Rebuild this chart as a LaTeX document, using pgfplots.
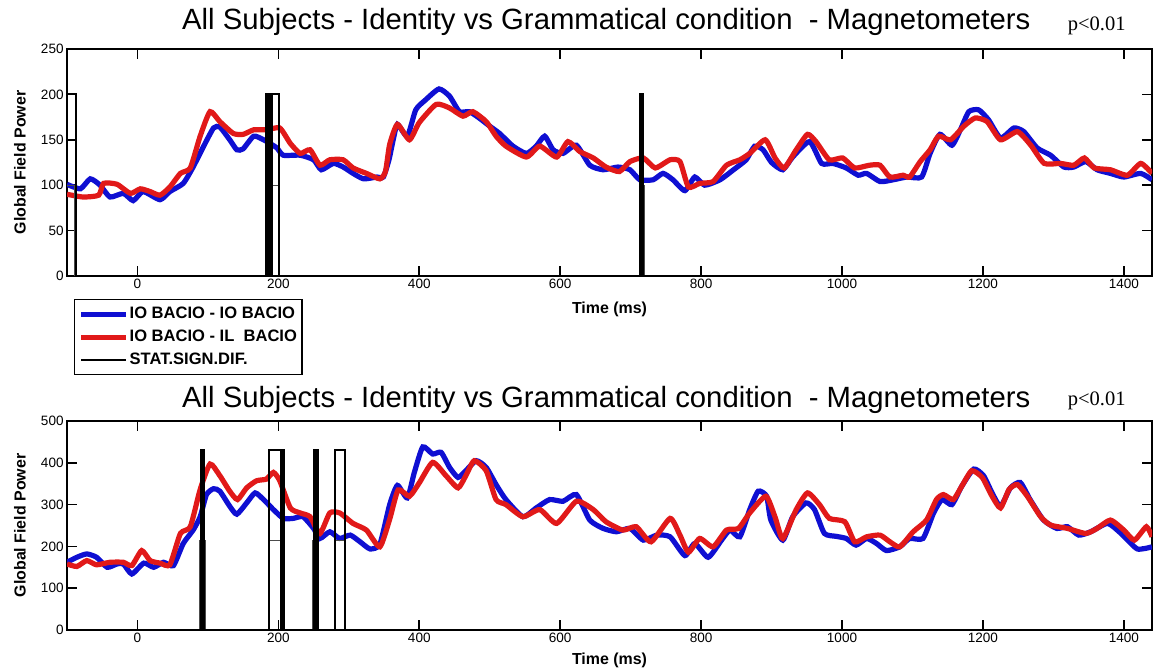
\documentclass[border=0pt]{standalone}
\usepackage{pgfplots}
\pgfplotsset{compat=1.18}
\usepackage{fontspec}
\setmainfont{Liberation Sans}
\newfontfamily\timesfont{Liberation Serif}
\definecolor{mblue}{RGB}{15,15,210}
\definecolor{mred}{RGB}{225,25,25}

\pgfplotsset{
  mstyle/.style={
    scale only axis, width=542.5bp, xmin=-100, xmax=1440,
    xtick={0,200,...,1400},
    tick align=inside, xtick pos=both, ytick pos=both,
    major tick length=5bp,
    axis line style={line width=0.8bp},
    every tick/.style={black, line width=0.8bp},
    tick label style={font=\fontsize{6.8}{7.5}\selectfont, inner sep=1.5bp},
    /pgf/number format/assume math mode=true,
    /pgf/number format/set thousands separator={},
    xlabel={Time (ms)},
    ylabel={Global Field Power},
    label style={font=\bfseries\fontsize{8}{9}\selectfont},
    every axis title shift=0pt,
    title style={font=\fontsize{14.7}{16}\selectfont, anchor=center, yshift=0pt},
    title={All Subjects - Identity vs Grammatical condition\ \ - Magnetometers},
    clip mode=individual,
  },
  curve/.style={line width=2.6bp, smooth, tension=0.35},
  stat/.style={black, line width=1bp, sharp plot},
  stathalf/.style={black!70, line width=0.5bp, sharp plot},
}

\begin{document}
\begin{tikzpicture}
\useasboundingbox (0,0) rectangle (576.5bp,335.5bp);

% ---------------- top panel ----------------
\begin{axis}[mstyle,
  at={(33.5bp,197.5bp)}, anchor=south west,
  height=113.5bp, ymin=0, ymax=250, ytick={0,50,...,250},
  xlabel style={at={(axis description cs:0.5,-0.145)},anchor=center},
  ylabel style={at={(axis description cs:-0.0433,0.5)},anchor=center},
  title style={at={(axis description cs:0.497,1.119)}},
  legend style={at={(axis description cs:0.00645,-0.101)}, anchor=north west,
    font=\bfseries\fontsize{8.3}{9}\selectfont, draw=black, line width=0.7bp,
    inner xsep=2bp, inner ysep=3bp, row sep=3bp,
    nodes={inner sep=0.5bp, text height=6bp, text depth=1.5bp}},
  legend cell align=left,
  legend image code/.code={\draw[#1] (0bp,0bp) -- (22.5bp,0bp);},
]
\addlegendimage{mblue, line width=2.5bp}
\addlegendentry{IO BACIO - IO BACIO}
\addlegendimage{mred, line width=2.5bp}
\addlegendentry{IO BACIO - IL\ \ BACIO}
\addlegendimage{black, line width=0.75bp}
\addlegendentry{STAT.SIGN.DIF.}

\addplot[mblue, curve, forget plot] coordinates {
(-100,101) (-81,96) (-67,107) (-53,100) (-39,87) (-20,91) (-6,83) (8,93) (32,84) (46,93)
(65,102) (79,120) (94,143) (108,163) (117,164) (131,150) (141,139) (150,140) (165,154)
(179,150) (188,146) (198,141) (207,133) (231,133) (250,128) (261,117) (278,124) (292,120)
(306,113) (321,107) (340,109) (349,109) (357,128) (363,150) (369,167) (383,154) (395,183)
(409,194) (428,206) (443,198) (457,181) (471,181) (485,174) (500,165) (514,157) (533,143)
(552,135) (566,143) (578,154) (590,139) (604,135) (623,144) (642,122) (661,117) (682,120)
(699,117) (713,106) (732,106) (746,113) (760,106) (777,94) (791,109) (805,100) (827,106)
(846,117) (864,128) (876,143) (888,139) (900,125) (916,117) (930,131) (954,148) (971,124)
(987,124) (1006,119) (1023,111) (1035,113) (1054,104) (1073,106) (1092,109) (1113,109)
(1125,135) (1139,156) (1156,144) (1168,161) (1180,181) (1194,183) (1208,172) (1225,152)
(1244,163) (1258,159) (1277,141) (1296,133) (1315,120) (1329,120) (1346,126) (1362,117)
(1381,113) (1400,109) (1424,113) (1440,106)
};
\addplot[mred, curve, forget plot] coordinates {
(-100,90) (-77,87) (-55,89) (-48,102) (-29,101) (-10,91) (4,96) (18,93) (32,89) (46,98)
(61,113) (75,119) (89,154) (103,181) (117,170) (136,157) (150,156) (165,161) (183,161)
(202,163) (217,146) (231,135) (245,139) (259,122) (273,128) (292,128) (306,119) (325,113)
(344,107) (352,115) (358,145) (369,167) (386,150) (400,169) (424,189) (443,185) (462,176)
(476,181) (495,170) (509,154) (523,143) (552,131) (571,143) (595,131) (611,148) (628,137)
(647,130) (665,120) (684,115) (699,126) (718,130) (735,119) (756,128) (770,126) (782,98)
(798,102) (817,104) (836,122) (855,128) (869,135) (891,150) (905,130) (918,119) (935,139)
(951,156) (963,148) (982,128) (1001,130) (1018,119) (1039,122) (1054,122) (1068,109)
(1087,111) (1096,109) (1111,126) (1125,139) (1137,154) (1154,150) (1173,165) (1189,174)
(1206,170) (1225,150) (1249,159) (1268,144) (1287,124) (1310,124) (1329,122) (1344,130)
(1358,119) (1381,117) (1405,111) (1424,124) (1440,113)
};
\addplot[stathalf, forget plot] coordinates {
(-100,100) (-89,100) (-89,0) (181.5,0) (181.5,100) (201.5,100) (201.5,0)
(712,0) (712,100) (719,100) (719,0) (1440,0)
};
\addplot[stat, forget plot] coordinates {
(-100,200) (-87,200) (-87,0)
(183,0) (183,200) (184.5,200) (184.5,0) (186,0) (186,200) (187.5,200) (187.5,0)
(189,0) (189,200) (190.5,200) (190.5,0) (191.5,0) (191.5,200) (201,200) (201,0)
(713,0) (713,200) (714.5,200) (714.5,0) (716,0) (716,200) (718,200) (718,0) (1440,0)
};
\node[font=\timesfont\fontsize{10.3}{11}\selectfont, anchor=center]
  at (axis description cs:0.949,1.1) {p<0.01};
\end{axis}

% ---------------- bottom panel ----------------
\begin{axis}[mstyle,
  at={(33.5bp,20.5bp)}, anchor=south west,
  height=104.5bp, ymin=0, ymax=500, ytick={0,100,...,500},
  xlabel style={at={(axis description cs:0.5,-0.1435)},anchor=center},
  ylabel style={at={(axis description cs:-0.0433,0.5)},anchor=center},
  title style={at={(axis description cs:0.497,1.1005)}},
]
\addplot[mblue, curve] coordinates {
(-100,162) (-86,174) (-72,182) (-58,174) (-43,150) (-29,158) (-20,158) (-8,134) (9,160)
(23,150) (37,162) (51,154) (65,207) (79,239) (89,271) (98,324) (108,338) (117,332)
(131,296) (141,277) (155,304) (167,328) (179,312) (193,288) (207,267) (221,267) (235,271)
(250,243) (259,219) (273,235) (287,219) (302,227) (316,211) (330,194) (344,205) (358,300)
(369,346) (383,316) (393,377) (405,438) (419,421) (431,425) (443,389) (455,365) (466,381)
(481,405) (495,389) (509,348) (523,312) (547,271) (566,292) (585,312) (604,308) (623,324)
(642,263) (661,243) (680,235) (699,243) (718,215) (737,227) (756,223) (777,178) (791,207)
(810,174) (829,215) (841,239) (855,223) (869,288) (881,332) (893,320) (899,263) (916,215)
(930,271) (949,304) (961,288) (975,231) (992,224) (1006,219) (1020,203) (1035,219)
(1049,207) (1063,190) (1082,199) (1096,219) (1115,219) (1130,280) (1142,312) (1156,300)
(1170,344) (1187,385) (1201,369) (1213,328) (1225,296) (1239,340) (1253,353) (1267,312)
(1286,263) (1305,243) (1320,247) (1336,227) (1353,235) (1377,255) (1396,231) (1419,194)
(1440,199)
};
\addplot[mred, curve] coordinates {
(-100,158) (-86,152) (-72,166) (-58,156) (-39,162) (-20,162) (-8,154) (6,190) (18,166)
(32,160) (46,156) (61,231) (75,247) (89,336) (103,397) (117,369) (131,332) (142,312)
(155,340) (169,357) (183,361) (193,377) (202,357) (217,292) (231,280) (245,271) (259,231)
(273,280) (287,280) (306,255) (325,239) (344,199) (358,265) (370,335) (386,320) (400,352)
(419,401) (438,369) (455,340) (466,369) (478,405) (495,381) (509,312) (523,300) (547,271)
(571,288) (595,255) (623,308) (647,288) (665,259) (689,239) (708,247) (729,211) (756,267)
(770,227) (782,186) (798,219) (817,199) (836,239) (853,243) (869,280) (892,320) (905,270)
(916,219) (935,288) (951,328) (968,300) (982,267) (1004,259) (1018,211) (1035,223)
(1054,227) (1068,211) (1082,199) (1101,235) (1120,263) (1134,312) (1144,324) (1158,312)
(1170,344) (1184,381) (1199,365) (1213,320) (1225,292) (1237,336) (1249,348) (1263,320)
(1282,271) (1296,251) (1320,243) (1346,231) (1362,243) (1381,263) (1400,239) (1415,215)
(1432,247) (1440,223)
};
\addplot[stathalf] coordinates {
(-100,0) (88.5,0) (88.5,215) (96,215) (96,0) (186,0) (186,215) (208.5,215) (208.5,0)
(249,0) (249,215) (257,215) (257,0) (279.5,0) (279.5,215) (294.5,215) (294.5,0) (1440,0)
};
\addplot[stat] coordinates {
(-100,0) (90,0) (90,430) (91.5,430) (91.5,0) (93,0) (93,430) (95,430) (95,0)
(187,0) (187,430) (204,430) (204,0) (205.5,0) (205.5,430) (207.5,430) (207.5,0)
(251,0) (251,430) (252.5,430) (252.5,0) (254,0) (254,430) (256,430) (256,0)
(280,0) (280,430) (294,430) (294,0) (1440,0)
};
\node[font=\timesfont\fontsize{10.3}{11}\selectfont, anchor=center]
  at (axis description cs:0.949,1.097) {p<0.01};
\end{axis}
\end{tikzpicture}
\end{document}
